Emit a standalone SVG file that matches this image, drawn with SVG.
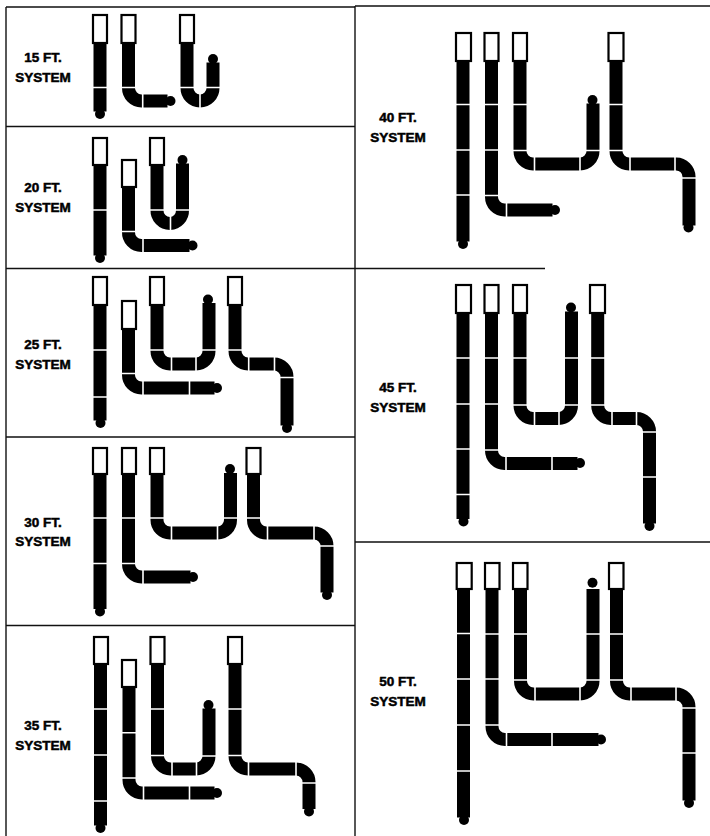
<svg xmlns="http://www.w3.org/2000/svg" width="710" height="836" viewBox="0 0 710 836">
<style>
.g{fill:none;stroke:#111;stroke-width:1.4}
.h{fill:none;stroke:#000;stroke-width:13}
.s{fill:none;stroke:#fff;stroke-width:1.6}
.b{fill:#fff;stroke:#000;stroke-width:2.2}
.t{fill:#000}
text{font-family:"Liberation Sans",Arial,sans-serif;font-weight:700;font-size:13.5px;text-anchor:middle;fill:#000;stroke:#000;stroke-width:.5}
</style>
<rect width="710" height="836" fill="#fff"/>
<g id="connectors">
<path class="g" d="M6 7H355M355 6H710M6 7V836M355 6V836M6 126.5H355M6 268.5H355M355 268.5H545M6 437H355M6 625.5H355M355 542H710"/>
</g>
<g id="system-15">
<text x="43" y="62">15 FT.</text><text x="43" y="81.5">SYSTEM</text>
<path class="h" d="M100 43V111.500M128.500 43V88a13 13 0 0 0 13 13H167.500M187 43V88a13 13 0 0 0 13 13a13 13 0 0 0 13 -13V62.500"/>
<path class="s" d="M92 87.500H109M121 87.500H136M180 87.500H195M205 87.500H220M142.700 93V109M200 93V109"/>
<g class="b"><rect x="93" y="15" width="14" height="28"/><rect x="121.500" y="15" width="14" height="28"/><rect x="180" y="15" width="14" height="28"/></g>
<g class="t"><circle cx="100" cy="114" r="5"/><circle cx="170.500" cy="101" r="5"/><circle cx="213" cy="59" r="5"/></g>
</g>
<g id="system-20">
<text x="43" y="191.700">20 FT.</text><text x="43" y="211.700">SYSTEM</text>
<path class="h" d="M100 165V255.500M128.500 187V232a13 13 0 0 0 13 13.500H189.500M157 165V210a13 13 0 0 0 13 13.500a13 13 0 0 0 12.500 -13.500V163.500"/>
<path class="s" d="M92 210H109M121 231.500H136M150 210H165M175 210H190M143 237V253M170.500 215V231"/>
<g class="b"><rect x="93" y="138" width="14" height="27"/><rect x="122" y="160" width="14" height="27"/><rect x="150" y="138" width="14" height="27"/></g>
<g class="t"><circle cx="100" cy="258" r="5"/><circle cx="192.500" cy="245.500" r="5"/><circle cx="182.500" cy="160" r="5"/></g>
</g>
<g id="system-25">
<text x="43" y="349">25 FT.</text><text x="43" y="369">SYSTEM</text>
<path class="h" d="M100 305V420.500M128.500 329V375a13 13 0 0 0 13 13H214.500M157 305V351a13 13 0 0 0 13 13H196a13 13 0 0 0 13 -13V303M235 305V351a13 13 0 0 0 13 13H274a13 13 0 0 1 13 13V425.500"/>
<path class="s" d="M92 350H108M92 397H108M121 373.500H136M150 350H165M201 350H217M228 350H243M280 377.500H295M143 380V396M189.500 380V396M171.500 356V372M196 356V372M248.700 356V372M274.500 356V372"/>
<g class="b"><rect x="93" y="277" width="14" height="28"/><rect x="122" y="301" width="14" height="28"/><rect x="150" y="277" width="14" height="28"/><rect x="228" y="277" width="14" height="28"/></g>
<g class="t"><circle cx="100.500" cy="423" r="5"/><circle cx="217" cy="388" r="5"/><circle cx="208" cy="299.500" r="5"/><circle cx="287" cy="428" r="5"/></g>
</g>
<g id="system-30">
<text x="43" y="526.700">30 FT.</text><text x="43" y="546">SYSTEM</text>
<path class="h" d="M100 474V609M128.500 474V564a13 13 0 0 0 13 13H190.500M157 474V520a13 13 0 0 0 13 13H217.500a13 13 0 0 0 13 -13V473M253.500 474V520a13 13 0 0 0 13 13H314a13 13 0 0 1 13 13V592.500"/>
<path class="s" d="M92 518H108M92 563.500H108M121 518H136M121 563.500H136M150 518H165M222 518H238M246 518H261M319 546H335M143 569V585M171.500 525V541M217.500 525V541M267.500 525V541M314 525V541"/>
<g class="b"><rect x="93" y="448" width="14" height="26"/><rect x="122" y="448" width="14" height="26"/><rect x="150" y="448" width="14" height="26"/><rect x="246.500" y="448" width="14" height="26"/></g>
<g class="t"><circle cx="100" cy="611.500" r="5"/><circle cx="193" cy="577" r="5"/><circle cx="230" cy="469" r="5"/><circle cx="327" cy="595" r="5"/></g>
</g>
<g id="system-35">
<text x="43" y="730">35 FT.</text><text x="43" y="750">SYSTEM</text>
<path class="h" d="M100.500 664V825.500M129 687V780a13 13 0 0 0 13 13H214.500M157.500 664V756a13 13 0 0 0 13 13H196a13 13 0 0 0 13 -13V708.500M235 664V756a13 13 0 0 0 13 13H296a13 13 0 0 1 13 13V809"/>
<path class="s" d="M93 709H109M93 755H109M93 801H109M122 732.700H137M122 778H137M150 709H166M150 755.500H166M201 756H217M227 709H243M227 755.500H243M301 783H317M143.500 785V801M189.500 785V801M172 761V777M196.500 761V777M248.500 761V777M296 761V777"/>
<g class="b"><rect x="94" y="637" width="14" height="27"/><rect x="122" y="660" width="14" height="27"/><rect x="150.500" y="637" width="14" height="27"/><rect x="228" y="637" width="14" height="27"/></g>
<g class="t"><circle cx="100.500" cy="828" r="5"/><circle cx="217" cy="793" r="5"/><circle cx="208.500" cy="705" r="5"/><circle cx="309" cy="811.500" r="5"/></g>
</g>
<g id="system-40">
<text x="398" y="121.700">40 FT.</text><text x="398" y="141.700">SYSTEM</text>
<path class="h" d="M463 61V241.500M491.500 61V197a13 13 0 0 0 13 13H552.500M520 61V151a13 13 0 0 0 13 13H580a13 13 0 0 0 13 -13V103.500M616 61V151a13 13 0 0 0 13 13H675a13 13 0 0 1 14 14V225.500"/>
<path class="s" d="M455 104.500H471M455 150H471M455 195H471M484 104.500H499M484 150H499M484 195.500H499M512 104.500H528M512 150.500H528M585 150.500H601M608 104.500H624M608 150.500H624M681 178H697M506.500 202V218M534.500 156V172M580 156V172M630 156V172M675 156V172"/>
<g class="b"><rect x="456" y="33" width="15" height="28"/><rect x="484.500" y="33" width="14" height="28"/><rect x="513" y="33" width="14" height="28"/><rect x="608.500" y="33" width="15" height="28"/></g>
<g class="t"><circle cx="463" cy="244" r="5"/><circle cx="555" cy="210" r="5"/><circle cx="592.500" cy="100" r="5"/><circle cx="688.500" cy="227.500" r="5"/></g>
</g>
<g id="system-45">
<text x="398" y="391.700">45 FT.</text><text x="398" y="411.700">SYSTEM</text>
<path class="h" d="M463 313V519M491.500 313V450.500a13 13 0 0 0 13 13H577.500M520 313V405.500a13 13 0 0 0 13 13H558.500a13 13 0 0 0 13 -13V311.500M597.700 313V405.500a13 13 0 0 0 13 13H636.500a13 13 0 0 1 13 13V523.500"/>
<path class="s" d="M455 358H471M455 404H471M455 449H471M455 494.500H471M484 358H499M484 404H499M484 450H499M512 358H528M512 405H528M564 358H579M564 405H579M590 358H606M590 405H606M642 432H658M642 477H658M506 455V472M552 455V472M534.500 410V427M559 410V427M612 410V427M636.500 410V427"/>
<g class="b"><rect x="456" y="285" width="15" height="28"/><rect x="484.500" y="285" width="14" height="28"/><rect x="513" y="285" width="14" height="28"/><rect x="590" y="285" width="15" height="28"/></g>
<g class="t"><circle cx="463.500" cy="521.500" r="5"/><circle cx="580" cy="463" r="5"/><circle cx="571" cy="307.500" r="5"/><circle cx="649.500" cy="526" r="5"/></g>
</g>
<g id="system-50">
<text x="398" y="686">50 FT.</text><text x="398" y="705.700">SYSTEM</text>
<path class="h" d="M463.500 589V817.500M492 589V726.500a13 13 0 0 0 13 13H598.500M520.500 589V681a13 13 0 0 0 13 13H580a13 13 0 0 0 13 -13V589M616.500 589V681a13 13 0 0 0 13 13H676a13 13 0 0 1 13 13V800.500"/>
<path class="s" d="M455 633.500H472M455 679H472M455 725H472M455 771H472M484 634H500M484 679H500M484 725H500M512 634H529M512 680H529M585 634H601M585 680H601M608 634H624M608 680H624M681 708H697M681 753H697M506.500 731V748M552 731V748M535 686V702M580 686V702M631 686V702M676 686V702"/>
<g class="b"><rect x="456.700" y="563" width="15" height="26"/><rect x="485" y="563" width="14.500" height="26"/><rect x="513" y="563" width="14.500" height="26"/><rect x="609" y="563" width="14.500" height="26"/></g>
<g class="t"><circle cx="464" cy="820" r="5"/><circle cx="601" cy="739.500" r="5"/><circle cx="592.500" cy="582.700" r="5"/><circle cx="689" cy="803" r="5"/></g>
</g>
</svg>
